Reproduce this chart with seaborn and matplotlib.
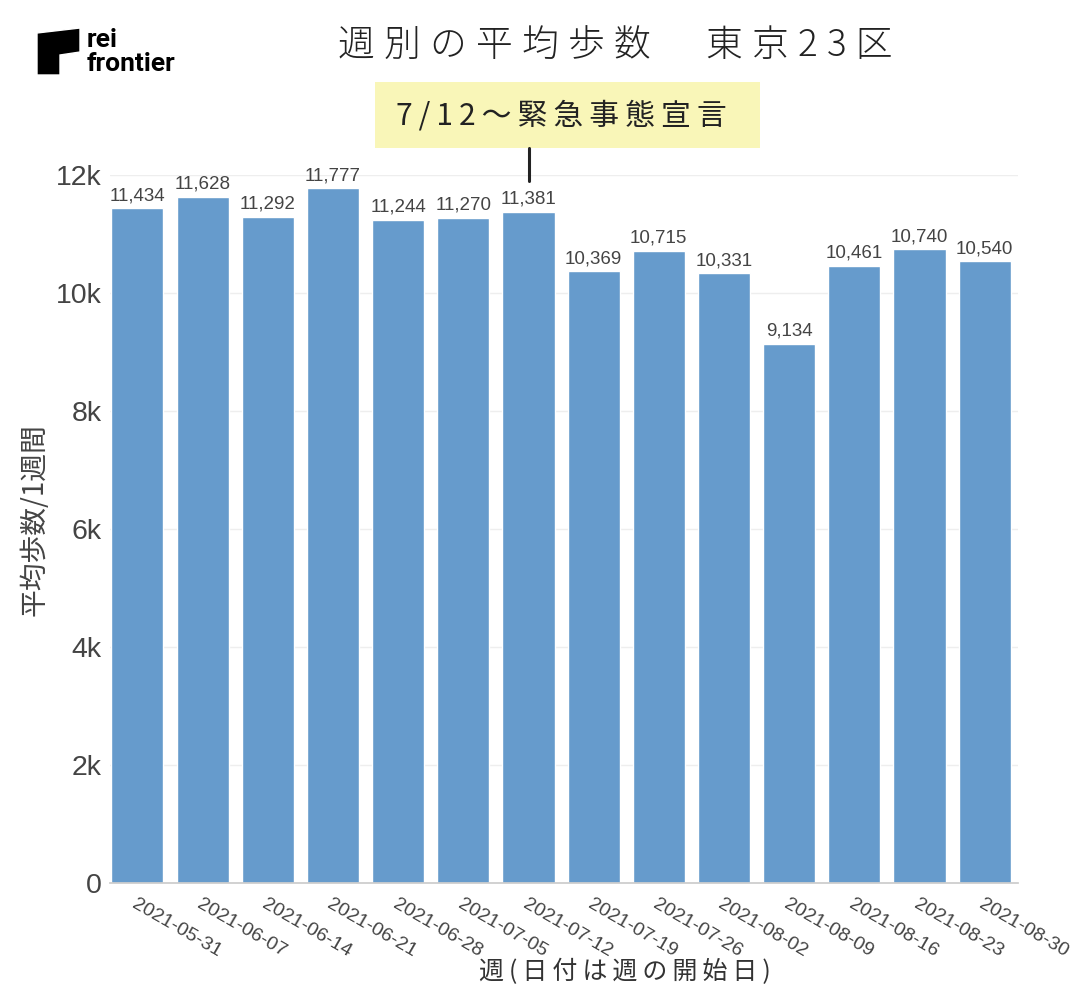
import matplotlib
matplotlib.use("Agg")
import matplotlib.pyplot as plt
import matplotlib.patches as mpatches
import seaborn as sns
import pandas as pd

weeks = ["2021-05-31", "2021-06-07", "2021-06-14", "2021-06-21", "2021-06-28",
         "2021-07-05", "2021-07-12", "2021-07-19", "2021-07-26", "2021-08-02",
         "2021-08-09", "2021-08-16", "2021-08-23", "2021-08-30"]
steps = [11434, 11628, 11292, 11777, 11244, 11270, 11381,
         10369, 10715, 10331, 9134, 10461, 10740, 10540]
yticks = [0, 2000, 4000, 6000, 8000, 10000, 12000]
ytick_labels = ["0", "2k", "4k", "6k", "8k", "10k", "12k"]

title = "週別の平均歩数　東京23区"
note = "7/12～緊急事態宣言"
xlabel = "週(日付は週の開始日)"
ylabel = "平均歩数/1週間"


def spaced(s, sep):
    # letter spacing like the original
    return sep.join(s)


df = pd.DataFrame({"week": weeks, "steps": steps})

sns.set_theme(style="white")
plt.rcParams["font.family"] = ["Liberation Sans", "Noto Sans CJK JP", "DejaVu Sans"]
cjk = ["Noto Sans CJK JP", "DejaVu Sans"]

fig = plt.figure(figsize=(10.84, 10), dpi=100)
ax = fig.add_axes([0.1015, 0.117, 0.8375, 0.708])

sns.barplot(data=df, x="week", y="steps", color="#669bcc", saturation=1,
            width=0.8, ax=ax)

for i, v in enumerate(steps):
    ax.text(i, v + 70, f"{v:,}", ha="center", va="bottom", fontsize=13.5, color="#444444")

ax.set_xlim(-0.42, 13.51)
ax.set_ylim(0, 12000)
ax.set_yticks(yticks)
ax.set_yticklabels(ytick_labels, fontsize=20.5, color="#444444")
ax.set_xticks(range(len(weeks)))
ax.set_xticklabels(weeks, rotation=-30, ha="left", va="top", rotation_mode="anchor",
                   fontsize=14, color="#444444")
ax.tick_params(axis="x", pad=9, length=0)
ax.tick_params(axis="y", pad=6, length=0)
ax.yaxis.grid(True, color="#eeeeee", linewidth=1)
ax.set_axisbelow(True)
for s in ["top", "right", "left"]:
    ax.spines[s].set_visible(False)
ax.spines["bottom"].set_color("#cccccc")

ax.set_xlabel(spaced(xlabel, "\u2009"), fontsize=18, color="#333333", family=cjk)
ax.xaxis.set_label_coords((625 - 110) / 908, (883 - 972) / 708)
ax.xaxis.label.set_va("center")
ax.set_ylabel(ylabel, fontsize=20, color="#444444", family=cjk)
ax.yaxis.set_label_coords((35 - 110) / 908, (883 - 520) / 708)
ax.yaxis.label.set_va("center")

fig.text(615 / 1084, 1 - 46 / 1000, spaced(title, "\u2005"), ha="center", va="center",
         fontsize=26.5, color="#222222", family=cjk, fontweight="light")

# annotation box
fig.add_artist(mpatches.Rectangle((375 / 1084, 1 - 148 / 1000), 385 / 1084, 66 / 1000,
                                  transform=fig.transFigure, facecolor="#f9f6b8",
                                  edgecolor="none"))
fig.text(561 / 1084, 1 - 116 / 1000, spaced(note, "\u2009"), ha="center", va="center",
         fontsize=21.5, color="#222222", family=cjk)
fig.add_artist(plt.Line2D([529 / 1084, 529 / 1084], [1 - 148 / 1000, 1 - 181 / 1000],
                          color="#222222", linewidth=2.2))

# logo
logo_px = [(37, 33), (80, 28), (80, 52), (60, 55), (60, 75), (37, 75)]
logo = mpatches.Polygon([(x / 1084, 1 - y / 1000) for x, y in logo_px],
                        closed=True, transform=fig.transFigure, facecolor="black")
fig.add_artist(logo)
fig.text(87 / 1084, 1 - 40 / 1000, "rei", fontsize=19, fontweight="bold", va="center",
         ha="left", color="black", family=["Roboto", "DejaVu Sans"])
fig.text(87 / 1084, 1 - 64 / 1000, "frontier", fontsize=19, fontweight="bold", va="center",
         ha="left", color="black", family=["Roboto", "DejaVu Sans"])

fig.savefig("out.png", dpi=100)
